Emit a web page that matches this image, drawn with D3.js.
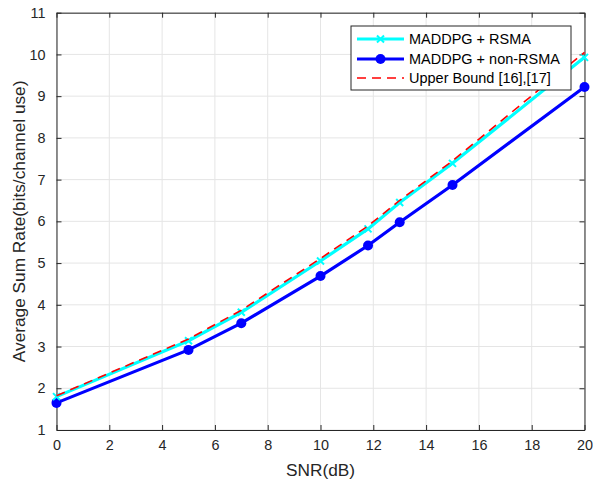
<!DOCTYPE html>
<html><head><meta charset="utf-8">
<script src="https://cdn.jsdelivr.net/npm/d3@7"></script>
<style>body{margin:0;background:#fff}svg{display:block}text{font-family:"Liberation Sans",Arial,sans-serif}</style>
</head><body><svg id="c" width="593" height="481"></svg>
<script>
const snr = [0, 5, 7, 10, 11.8, 13, 15, 20];
const rsma = [1.80, 3.14, 3.82, 5.05, 5.82, 6.45, 7.39, 9.93];
const nonRsma = [1.65, 2.92, 3.56, 4.69, 5.42, 5.98, 6.87, 9.22];
const upper = [1.82, 3.18, 3.87, 5.11, 5.89, 6.50, 7.45, 10.05];
const xTicks = [0,2,4,6,8,10,12,14,16,18,20];
const yTicks = [1,2,3,4,5,6,7,8,9,10,11];
const labels = ["MADDPG + RSMA","MADDPG + non-RSMA","Upper Bound [16],[17]"];

const L=56.5, R=584.5, T=12.7, B=430;
const svg = d3.select("#c");
const x = d3.scaleLinear().domain([0,20]).range([L,R]);
const y = d3.scaleLinear().domain([1,11]).range([B,T]);
const axCol="#262626";

function fitFont(sel, base, target){
  sel.style("font-size", base+"px");
  const w = sel.node().getComputedTextLength();
  if (w>0) sel.style("font-size", (base*target/w).toFixed(2)+"px");
}

// grid
const g = svg.append("g");
g.selectAll(".gx").data(xTicks).enter().append("line")
 .attr("x1",d=>x(d)).attr("x2",d=>x(d)).attr("y1",T).attr("y2",B)
 .attr("stroke","#e5e5e5").attr("stroke-width",1);
g.selectAll(".gy").data(yTicks).enter().append("line")
 .attr("y1",d=>y(d)).attr("y2",d=>y(d)).attr("x1",L).attr("x2",R)
 .attr("stroke","#e5e5e5").attr("stroke-width",1);

// axes
const ax = svg.append("g").attr("transform",`translate(0,${B})`)
 .call(d3.axisBottom(x).tickValues(xTicks).tickSizeInner(-5).tickSizeOuter(0).tickPadding(10));
const ay = svg.append("g").attr("transform",`translate(${L},0)`)
 .call(d3.axisLeft(y).tickValues(yTicks).tickSizeInner(-5).tickSizeOuter(0).tickPadding(11));
const at = svg.append("g").attr("transform",`translate(0,${T})`)
 .call(d3.axisTop(x).tickValues(xTicks).tickSizeInner(-5).tickSizeOuter(0).tickFormat(""));
const ar = svg.append("g").attr("transform",`translate(${R},0)`)
 .call(d3.axisRight(y).tickValues(yTicks).tickSizeInner(-5).tickSizeOuter(0).tickFormat(""));
[ax,ay,at,ar].forEach(a=>{
  a.select(".domain").attr("stroke",axCol).attr("stroke-width",1);
  a.selectAll(".tick line").attr("stroke",axCol);
  a.selectAll("text").attr("fill",axCol).style("font-size","14.4px").style("font-family",'"Liberation Sans",Arial,sans-serif');
});

// axis labels
const xt = svg.append("text").attr("x",x(10)).attr("y",476).attr("text-anchor","middle")
 .attr("fill",axCol).text("SNR(dB)");
fitFont(xt, 18, 69);
const yt = svg.append("text").attr("transform",`translate(25,${(T+B)/2}) rotate(-90)`).attr("text-anchor","middle")
 .attr("fill",axCol).text("Average Sum Rate(bits/channel use)");
yt.style("font-size", xt.style("font-size"));

const line = d3.line().x(d=>x(d[0])).y(d=>y(d[1]));
const pts = (vals)=>snr.map((s,i)=>[s,vals[i]]);

// series
svg.append("path").datum(pts(nonRsma)).attr("d",line).attr("fill","none").attr("stroke","#0000ff").attr("stroke-width",3.2);
svg.selectAll(".dot").data(pts(nonRsma)).enter().append("circle")
 .attr("cx",d=>x(d[0])).attr("cy",d=>y(d[1])).attr("r",5).attr("fill","#0000ff");

svg.append("path").datum(pts(rsma)).attr("d",line).attr("fill","none").attr("stroke","#00ffff").attr("stroke-width",3.2);
const cross = (sel,s)=>sel.append("path").attr("d",`M${-s},${-s}L${s},${s}M${-s},${s}L${s},${-s}`)
  .attr("stroke","#00ffff").attr("stroke-width",2).attr("fill","none");
svg.selectAll(".xm").data(pts(rsma)).enter().append("g")
 .attr("transform",d=>`translate(${x(d[0])},${y(d[1])})`).each(function(){cross(d3.select(this),3.5);});

svg.append("path").datum(pts(upper)).attr("d",line).attr("fill","none").attr("stroke","#ff0000")
 .attr("stroke-width",1.6).attr("stroke-dasharray","9,6");

// legend
const lg = svg.append("g");
lg.append("rect").attr("x",351).attr("y",26).attr("width",220).attr("height",64)
 .attr("fill","#fff").attr("stroke","#262626").attr("stroke-width",1);
const rows=[39,59,78];
lg.append("line").attr("x1",357).attr("x2",404).attr("y1",rows[0]).attr("y2",rows[0]).attr("stroke","#00ffff").attr("stroke-width",3.2);
cross(lg.append("g").attr("transform",`translate(380.5,${rows[0]})`),3.5);
lg.append("line").attr("x1",357).attr("x2",404).attr("y1",rows[1]).attr("y2",rows[1]).attr("stroke","#0000ff").attr("stroke-width",3.2);
lg.append("circle").attr("cx",380.5).attr("cy",rows[1]).attr("r",5).attr("fill","#0000ff");
lg.append("line").attr("x1",357).attr("x2",404).attr("y1",rows[2]).attr("y2",rows[2]).attr("stroke","#ff0000").attr("stroke-width",1.6).attr("stroke-dasharray","9,6");
const lt = lg.selectAll(".lt").data(labels).enter().append("text")
 .attr("x",409).attr("y",(d,i)=>rows[i]+5).attr("fill","#000").text(d=>d);
fitFont(lt.filter((d,i)=>i===1), 14.5, 151);
lt.style("font-size", lt.filter((d,i)=>i===1).style("font-size"));
</script></body></html>
